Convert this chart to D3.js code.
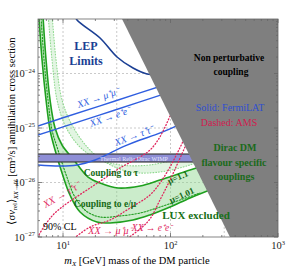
<!DOCTYPE html>
<html><head><meta charset="utf-8">
<script src="https://cdn.jsdelivr.net/npm/d3@7"></script>
<style>body{margin:0;background:#fff}svg{display:block}text{font-family:"Liberation Serif","Times New Roman",serif}</style>
</head><body><svg id="c" width="299" height="276"></svg>
<script>
// ---------- data (mass in GeV, cross section in cm^3/s) ----------
const massDomain = [5.85, 1000];
const sigmaDomain = [1e-27, 1e-23];
const xTickValues = [10, 100, 1000];
const xTickExp = ["1", "2", "3"];
const yTickValues = [1e-27, 1e-26, 1e-25, 1e-24];
const yTickExp = ["\u221227", "\u221226", "\u221225", "\u221224"];
const xGrid = [10, 31.6, 100, 316];
const yGrid = [1e-26, 1e-25, 1e-24];

const nonPerturbative = [[35.4,1e-23],[1000,1e-23],[1000,1e-27],[357,1e-27]];
const lepLimit = [[12.8,1.2e-23],[13.5,9.6e-24],[22.1,4.48e-24],[31.8,2.01e-24],[44.8,1.26e-24],[60.4,9.8e-25],[75,9.5e-25]];
const fermiMuMu = [[5.7,1.07e-25],[10,1.54e-25],[30,3.1e-25],[100,6.7e-25]];
const fermiEE = [[5.7,7.3e-26],[10,1.05e-25],[30,2.12e-25],[100,4.6e-25]];
const fermiTauTau = [[5.7,2.1e-26],[9.38,2.01e-26],[13.5,2.1e-26],[19.9,2.59e-26],[27.4,3.47e-26],[37.8,4.68e-26],[52,6.03e-26],[71.8,7.45e-26],[98.9,9.6e-26],[136,1.29e-25],[160,1.45e-25]];
const thermalRelic = [2.38e-26, 3.33e-26];
const thermalMass = [5.7, 260];

const amsTauTau = [[5.61,8.8e-28],[6.52,1.46e-27],[7.9,2.43e-27],[9.79,3.55e-27],[12.9,5.2e-27],[17.8,7.92e-27],[24.6,1.21e-26],[33.9,1.85e-26],[52,2.94e-26],[64.4,3.94e-26],[76.6,6.03e-26],[88.9,1.04e-25],[103,1.97e-25],[115,3e-25]];
const amsMuMu = [[12.1,8.8e-28],[17.8,1.52e-27],[27.4,2.05e-27],[42,3.4e-27],[64.4,5.9e-27],[79.8,9.8e-27],[98.9,1.92e-26],[117,3.63e-26],[136,6.57e-26],[150,9e-26]];
const amsEE = [[37.8,8.8e-28],[52,1.4e-27],[64.4,2.14e-27],[79.8,4.78e-27],[98.9,1.11e-26],[117,2.28e-26],[139,4.88e-26],[158,8.46e-26]];

const luxEmuOuter = [[5.9,1.5e-23],[6.38,1.77e-24],[6.95,3.27e-25],[7.57,9.18e-26],[8.43,3.94e-26],[9.79,1.49e-26],[11.6,5.9e-27],[14.4,2.88e-27],[20.7,1.88e-27],[27.4,1.81e-27],[44.8,2.05e-27],[64.4,2.54e-27],[98.9,3.55e-27],[152,5.2e-27],[259,7.92e-27]];
const luxEmuInner = [[6.45,1.5e-23],[6.95,1.77e-24],[7.57,3.27e-25],[8.43,1e-25],[9.79,4.88e-26],[12.4,2.7e-26],[17.1,1.26e-26],[22.1,9.8e-27],[32.5,7.92e-27],[52,8.63e-27],[79.8,1.11e-26],[152,1.69e-26],[233,2.18e-26]];
const luxEmuDashed = [[6.18,1.5e-23],[6.66,1.77e-24],[7.25,3.27e-25],[7.9,9.18e-26],[8.98,3.94e-26],[10.7,1.37e-26],[12.9,5.42e-27],[16.4,3.0e-27],[22.1,2.33e-27],[33.9,2.43e-27],[52,2.75e-27],[79.8,3.55e-27],[123,4.78e-27],[188,6.4e-27]];
const luxTauUpper = [[7.2,1.5e-23],[7.9,1.77e-24],[8.79,3.27e-25],[10.4,1.14e-25],[13.8,4.88e-26],[19.9,2.82e-26],[33.9,2.1e-26],[64.4,2.1e-26],[123,2.82e-26],[233,4.3e-26]];
const luxTauLower = [[7.85,1.5e-23],[8.61,1.77e-24],[9.79,3.27e-25],[12.1,1.14e-25],[17.1,4.3e-26],[24.6,2.38e-26],[42,1.56e-26],[79.8,1.56e-26],[152,2.1e-26],[259,3.2e-26]];

// ---------- scales ----------
const L = 38, R = 278, T = 19, B = 237;
const x = d3.scaleLog().domain(massDomain).range([L, R]);
const y = d3.scaleLog().domain(sigmaDomain).range([B, T]);
const svg = d3.select("#c");
svg.append("clipPath").attr("id", "pa").append("rect")
  .attr("x", L).attr("y", T).attr("width", R - L).attr("height", B - T);
const g = svg.append("g").attr("clip-path", "url(#pa)");
const line = d3.line().x(d => x(d[0])).y(d => y(d[1])).curve(d3.curveCatmullRom.alpha(0.5));
const band = (a, b) => line(a) + line(b.slice().reverse()).replace(/^M/, "L") + "Z";

// grid
g.selectAll(".gx").data(xGrid).join("line").attr("x1", d => x(d)).attr("x2", d => x(d))
  .attr("y1", T).attr("y2", B).attr("stroke", "#bdbdbd").attr("stroke-width", 0.8).attr("stroke-dasharray", "2,2");
g.selectAll(".gy").data(yGrid).join("line").attr("y1", d => y(d)).attr("y2", d => y(d))
  .attr("x1", L).attr("x2", R).attr("stroke", "#bdbdbd").attr("stroke-width", 0.8).attr("stroke-dasharray", "2,2");

// green fills
g.append("path").attr("d", band(luxTauUpper, luxTauLower)).attr("fill", "rgb(150,220,150)").attr("fill-opacity", 0.28);
g.append("path").attr("d", band(luxEmuOuter, luxEmuInner)).attr("fill", "rgb(140,212,140)").attr("fill-opacity", 0.45);

// green lines
const stroke = (data, col, w, dash) => g.append("path").attr("d", line(data)).attr("fill", "none")
  .attr("stroke", col).attr("stroke-width", w).attr("stroke-dasharray", dash || null).attr("stroke-linecap", dash ? "round" : "butt");
stroke(luxTauUpper, "#8fd88f", 1.1, "0.8,2");
stroke(luxTauLower, "#8fd88f", 1.1, "0.8,2");
stroke(luxEmuDashed, "#1c9a1c", 1.1, "1.5,1.6");
stroke(luxEmuOuter, "#1fa01f", 1.6);
stroke(luxEmuInner, "#1fa01f", 1.6);

// thermal relic band
g.append("rect").attr("x", x(thermalMass[0])).attr("width", x(thermalMass[1]) - x(thermalMass[0]))
  .attr("y", y(thermalRelic[1])).attr("height", y(thermalRelic[0]) - y(thermalRelic[1]))
  .attr("fill", "#8e8ed6").attr("stroke", "#3a3a3a").attr("stroke-width", 1.2);

// FermiLAT / LEP
stroke(lepLimit, "#1b3f94", 1.6);
stroke(fermiMuMu, "#2f5ee0", 1.4);
stroke(fermiEE, "#2f5ee0", 1.4);
stroke(fermiTauTau, "#2f5ee0", 1.4);
// AMS
stroke(amsTauTau, "#e0245c", 1.3, "0.9,2.2");
stroke(amsMuMu, "#e0245c", 1.3, "0.9,2.2");
stroke(amsEE, "#e0245c", 1.3, "0.9,2.2");

// non perturbative region
g.append("path").attr("d", d3.line().x(d => x(d[0])).y(d => y(d[1]))(nonPerturbative) + "Z").attr("fill", "#7f7f7f");

// ---------- texts ----------
const txt = (s, px, py, o = {}) => {
  const t = svg.append("text").attr("x", px).attr("y", py).attr("font-size", o.size || 9)
    .attr("fill", o.fill || "#000").attr("font-weight", o.bold ? "bold" : null)
    .attr("font-style", o.italic ? "italic" : null).attr("text-anchor", o.anchor || "start");
  if (o.rot) t.attr("transform", `rotate(${o.rot},${px},${py})`);
  if (o.len) t.attr("textLength", o.len).attr("lengthAdjust", "spacingAndGlyphs");
  t.text(s);
  return t;
};
txt("Thermal Relic Dirac WIMP", 100, 160.5, {size: 7, fill: "#e6e6ff", len: 68});
txt("LEP", 86, 50, {size: 12, bold: true, fill: "#1b3f94", anchor: "middle"});
txt("Limits", 86, 65, {size: 12, bold: true, fill: "#1b3f94", anchor: "middle"});
txt("XX \u2192 \u03bc\u207a\u03bc\u207b", 99, 101, {size: 10, italic: true, fill: "#2f5ee0", anchor: "middle", rot: -19});
txt("XX \u2192 e\u207ae\u207b", 111, 120, {size: 10, italic: true, fill: "#2f5ee0", anchor: "middle", rot: -19});
txt("XX \u2192 \u03c4\u207a\u03c4\u207b", 135, 139, {size: 10, italic: true, fill: "#2f5ee0", anchor: "middle", rot: -20});
txt("Non perturbative", 229, 61, {size: 9.5, bold: true, anchor: "middle"});
txt("coupling", 231, 75, {size: 9.5, bold: true, anchor: "middle"});
txt("Solid: FermiLAT", 230, 111, {size: 10, fill: "#2f4fd0", anchor: "middle"});
txt("Dashed: AMS", 229, 126, {size: 10, fill: "#d0204f", anchor: "middle"});
txt("Dirac DM", 235, 151, {size: 10, bold: true, fill: "#1a6a1a", anchor: "middle"});
txt("flavour specific", 234, 166, {size: 10, bold: true, fill: "#1a6a1a", anchor: "middle"});
txt("couplings", 234, 180, {size: 10, bold: true, fill: "#1a6a1a", anchor: "middle"});
txt("Coupling to \u03c4", 111, 176, {size: 9.5, bold: true, fill: "#176a17", anchor: "middle"});
txt("Coupling to e/\u03bc", 105, 207, {size: 9.5, bold: true, fill: "#176a17", anchor: "middle"});
txt("\u03bc=1.1", 179, 180, {size: 9, bold: true, fill: "#176a17", anchor: "middle", rot: -24});
txt("\u03bc=1.01", 183, 198, {size: 9, bold: true, fill: "#176a17", anchor: "middle", rot: -24});
txt("LUX excluded", 196, 219, {size: 11, bold: true, fill: "#177017", anchor: "middle"});
txt("90% CL", 43, 230, {size: 10});
txt("XX \u2192 \u03c4\u207a\u03c4\u207b", 63, 198, {size: 10, italic: true, fill: "#e0245c", anchor: "middle", rot: -30});
txt("XX \u2192 \u03bc\u207a\u03bc\u207b", 110, 234, {size: 10, italic: true, fill: "#e0245c", anchor: "middle"});
txt("XX \u2192 e\u207ae\u207b", 152, 231, {size: 9.5, italic: true, fill: "#e0245c", anchor: "middle"});

// ---------- frame & ticks ----------
const fr = svg.append("g").attr("stroke", "#666").attr("stroke-width", 0.8);
fr.append("rect").attr("x", L).attr("y", T).attr("width", R - L).attr("height", B - T).attr("fill", "none");
const xMinor = [], yMinor = [];
[1, 10, 100].forEach(d => { for (let k = 2; k <= 9; k++) if (k * d >= massDomain[0]) xMinor.push(k * d); });
[1e-27, 1e-26, 1e-25, 1e-24].forEach(d => { for (let k = 2; k <= 9; k++) yMinor.push(k * d); });
xTickValues.forEach(v => { fr.append("line").attr("x1", x(v)).attr("x2", x(v)).attr("y1", B).attr("y2", B - 4);
  fr.append("line").attr("x1", x(v)).attr("x2", x(v)).attr("y1", T).attr("y2", T + 4); });
xMinor.forEach(v => { fr.append("line").attr("x1", x(v)).attr("x2", x(v)).attr("y1", B).attr("y2", B - 2);
  fr.append("line").attr("x1", x(v)).attr("x2", x(v)).attr("y1", T).attr("y2", T + 2); });
yTickValues.forEach(v => { fr.append("line").attr("y1", y(v)).attr("y2", y(v)).attr("x1", L).attr("x2", L + 4);
  fr.append("line").attr("y1", y(v)).attr("y2", y(v)).attr("x1", R).attr("x2", R - 4); });
yMinor.forEach(v => { fr.append("line").attr("y1", y(v)).attr("y2", y(v)).attr("x1", L).attr("x2", L + 2);
  fr.append("line").attr("y1", y(v)).attr("y2", y(v)).attr("x1", R).attr("x2", R - 2); });

// tick labels
yTickValues.forEach((v, i) => {
  const t = svg.append("text").attr("x", 35).attr("y", y(v) + 3.5).attr("text-anchor", "end").attr("font-size", 10.5).attr("fill", "#222");
  t.append("tspan").text("10");
  t.append("tspan").attr("dy", -4.5).attr("font-size", 6.5).text(yTickExp[i]);
});
xTickValues.forEach((v, i) => {
  const t = svg.append("text").attr("x", x(v)).attr("y", 249).attr("text-anchor", "middle").attr("font-size", 10.5).attr("fill", "#222");
  t.append("tspan").text("10");
  t.append("tspan").attr("dy", -4.5).attr("font-size", 6.5).text(xTickExp[i]);
});

// axis titles
const xt = svg.append("text").attr("x", 137).attr("y", 264).attr("text-anchor", "middle").attr("font-size", 10.5);
xt.append("tspan").attr("font-style", "italic").text("m");
xt.append("tspan").attr("dy", 2).attr("font-size", 7).attr("font-style", "italic").text("X");
xt.append("tspan").attr("dy", -2).text(" [GeV] mass of the DM particle");

const yt = svg.append("text").attr("transform", "translate(15,131) rotate(-90)").attr("text-anchor", "middle").attr("font-size", 10.5);
yt.append("tspan").text("\u27e8\u03c3");
yt.append("tspan").attr("font-style", "italic").text("v");
yt.append("tspan").attr("dy", 2).attr("font-size", 6.5).text("rel");
yt.append("tspan").attr("dy", -2).text("\u27e9");
yt.append("tspan").attr("dy", 2.5).attr("font-size", 6.5).attr("font-style", "italic").text("XX\u2192\u2113\u2113");
yt.append("tspan").attr("dy", -2.5).text(" [cm\u00b3/s] annihilation  cross section");
</script></body></html>
